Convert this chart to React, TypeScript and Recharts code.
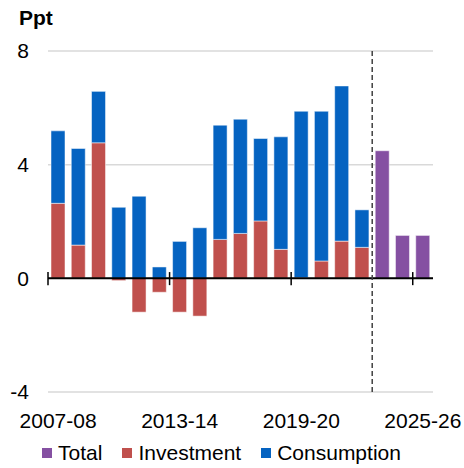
import {
  BarChart,
  Bar,
  XAxis,
  YAxis,
  CartesianGrid,
  ReferenceLine,
  Legend,
} from "recharts";

const years = [
  "2007-08", "2008-09", "2009-10", "2010-11", "2011-12", "2012-13", "2013-14",
  "2014-15", "2015-16", "2016-17", "2017-18", "2018-19", "2019-20", "2020-21",
  "2021-22", "2022-23", "2023-24", "2024-25", "2025-26",
];
const investment = [
  2.64, 1.17, 4.77, -0.08, -1.19, -0.49, -1.19, -1.33, 1.37, 1.58, 2.02, 1.02,
  0.02, 0.61, 1.31, 1.09, null, null, null,
];
const consumption = [
  2.55, 3.4, 1.81, 2.5, 2.89, 0.4, 1.3, 1.78, 4.02, 4.02, 2.9, 3.96, 5.86, 5.27,
  5.46, 1.32, null, null, null,
];
const total = [
  null, null, null, null, null, null, null, null, null, null, null, null, null,
  null, null, null, 4.49, 1.51, 1.51,
];
const yTicks = [-4, 0, 4, 8];
// axis tick marks sit on the left edge of these categories
const axisMarks = ["2007-08", "2013-14", "2019-20", "2025-26"];
const forecastStart = "2023-24";

const data = years.map((year, i) => ({
  year,
  total: total[i],
  investment: investment[i],
  consumption: consumption[i],
}));

const FONT = "'Liberation Sans', Arial, sans-serif";

const series = [
  { key: "total", name: "Total", color: "#8550A2" },
  { key: "investment", name: "Investment", color: "#C0504D" },
  { key: "consumption", name: "Consumption", color: "#0563C1" },
];

function ChartLegend() {
  return (
    <div
      style={{
        display: "flex",
        justifyContent: "center",
        alignItems: "center",
        fontFamily: FONT,
        fontSize: 21,
        color: "#000",
        height: 30,
        paddingLeft: 10,
      }}
    >
      {series.map((s, i) => (
        <div
          key={s.key}
          style={{
            display: "flex",
            alignItems: "center",
            marginLeft: i === 0 ? 0 : 20,
          }}
        >
          <span
            style={{
              width: 10,
              height: 10,
              background: s.color,
              marginRight: 6,
              display: "inline-block",
            }}
          />
          {s.name}
        </div>
      ))}
    </div>
  );
}

export default function App() {
  return (
    <div
      style={{
        position: "absolute",
        left: 0,
        top: 0,
        width: 464,
        height: 468,
        background: "#fff",
      }}
    >
      <div
        style={{
          position: "absolute",
          left: 19,
          top: 6,
          fontFamily: FONT,
          fontWeight: "bold",
          fontSize: 21,
        }}
      >
        Ppt
      </div>
      <BarChart
        width={464}
        height={468}
        data={data}
        stackOffset="sign"
        margin={{ top: 51, right: 31, left: 0, bottom: 0 }}
      >
        <CartesianGrid horizontal vertical={false} stroke="#d9d9d9" strokeWidth={1.5} />
        <XAxis
          dataKey="year"
          interval={5}
          axisLine={false}
          tickLine={false}
          tickSize={0}
          tickMargin={21}
          height={46}
          tick={{ fill: "#000", fontSize: 21, fontFamily: FONT }}
        />
        <YAxis
          domain={[-4, 8]}
          ticks={yTicks}
          width={48}
          axisLine={false}
          tickLine={false}
          tickSize={0}
          tickMargin={19}
          tick={{ fill: "#000", fontSize: 21, fontFamily: FONT }}
        />
        <Legend verticalAlign="bottom" content={<ChartLegend />} wrapperStyle={{ height: 30 }} />
        {series.map((s) => (
          <Bar
            key={s.key}
            dataKey={s.key}
            name={s.name}
            stackId="a"
            fill={s.color}
            stroke="#ffffff"
            strokeOpacity={0.5}
            strokeWidth={1}
            barSize={14}
            isAnimationActive={false}
          />
        ))}
        <ReferenceLine y={0} stroke="#000" strokeWidth={2} />
        {axisMarks.map((m) => (
          <ReferenceLine
            key={m}
            position="start"
            segment={[
              { x: m, y: 0.22 },
              { x: m, y: -0.24 },
            ]}
            stroke="#000"
            strokeWidth={1.5}
          />
        ))}
        <ReferenceLine
          x={forecastStart}
          position="start"
          stroke="#404040"
          strokeWidth={1.5}
          strokeDasharray="5 3"
        />
      </BarChart>
    </div>
  );
}
